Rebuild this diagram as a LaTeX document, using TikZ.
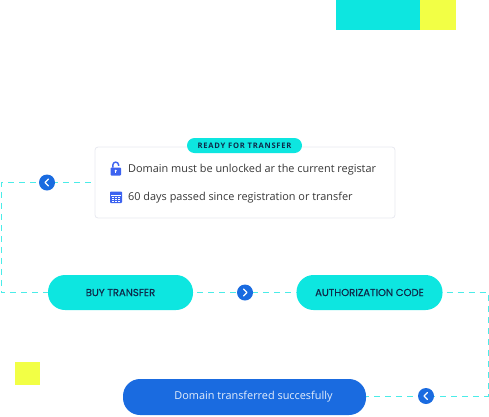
\documentclass[tikz,border=0pt]{standalone}
\usepackage{fontspec}
\setmainfont{Open Sans}
\newfontfamily\btnfont[FakeBold=0.25]{Poppins}
\newfontfamily\badgefont[LetterSpace=10]{Open Sans}
\usetikzlibrary{positioning}
\definecolor{aqua}{HTML}{0DE6E0}
\definecolor{lemon}{HTML}{F2FF45}
\definecolor{royal}{HTML}{1A6BE0}
\definecolor{ink}{HTML}{0D2A4A}
\definecolor{iconblue}{HTML}{3D63F0}
\definecolor{cardline}{HTML}{E8E9F0}
\tikzset{
  flowline/.style={draw=aqua!75,line width=1pt,dash pattern=on 6pt off 5pt},
  pill/.style={rounded corners=17pt,minimum height=35pt,inner sep=0pt,font=\btnfont\fontsize{10.1}{11}\selectfont,text=ink},
  badge/.style={circle,fill=royal,minimum size=16pt,inner sep=0pt},
  chevron/.style={draw=white,line width=1.3pt,line cap=round,line join=round},
  patch/.style={inner sep=0pt,outer sep=0pt},
  cardtext/.style={inner sep=0pt,anchor=west,font=\fontsize{10.9}{12}\selectfont,text=black!78}
}
\begin{document}
\begin{tikzpicture}[x=1pt,y=-1pt]
  \useasboundingbox (0,0) rectangle (489,416);
  % blocks of colour
  \node (topaqua) [patch,fill=aqua,minimum width=84pt,minimum height=30pt] at (378,15) {};
  \node (toplemon) [patch,fill=lemon,minimum width=36pt,minimum height=30pt] at (438,15) {};
  \node (sidelemon) [patch,fill=lemon,minimum width=25pt,minimum height=23pt] at (27.5,373.5) {};
  % steps
  \node (card) [draw=cardline,fill=white,rounded corners=3pt,line width=0.8pt,minimum width=300pt,minimum height=71pt,inner sep=0pt] at (245,182.5) {};
  \node (ready) [fill=aqua,rounded corners=7.5pt,minimum width=115pt,minimum height=15pt,inner sep=0pt,text=ink,font=\badgefont\bfseries\fontsize{7.6}{9}\selectfont] at (244.5,145.5) {READY FOR TRANSFER};
  \node (unlock) [cardtext] at (128,169.5) {Domain must be unlocked ar the current registar};
  \node (days) [cardtext] at (128,197.5) {60 days passed since registration or transfer};
  \node (buy) [pill,fill=aqua,minimum width=145pt] at (120.5,292.5) {BUY TRANSFER};
  \node (auth) [pill,fill=aqua,minimum width=146pt] at (369.5,292.5) {AUTHORIZATION CODE};
  \node (done) [pill,fill=royal,minimum width=243pt,minimum height=36pt,text=white!88!royal,font=\fontsize{10.9}{12}\selectfont] at (244.5,397) {\hspace*{18pt}Domain transferred succesfully};
  % corners of the dashed path
  \coordinate (cardcorner) at (1,182.5);
  \coordinate (buycorner) at (1,292.5);
  \coordinate (authcorner) at (488,292.5);
  \coordinate (donecorner) at (488,396);
  \draw[flowline] ([xshift=-4pt]card.west) -- (cardcorner) -- (buycorner) -- (buy.west);
  \draw[flowline] ([xshift=4pt]buy.east) -- (auth.west);
  \draw[flowline] ([xshift=4pt]auth.east) -- (authcorner) -- (donecorner) -- (done.east |- donecorner);
  % arrows on the path
  \node (back) [badge] at (47,182.5) {};
  \node (next) [badge] at (245,292.5) {};
  \node (last) [badge] at (426,396) {};
  \draw[chevron] ([xshift=1.5pt,yshift=-3.5pt]back.center) -- ++(-3.5,-3.5) -- ++(3.5,-3.5);
  \draw[chevron] ([xshift=-1.5pt,yshift=-3.5pt]next.center) -- ++(3.5,-3.5) -- ++(-3.5,-3.5);
  \draw[chevron] ([xshift=1.5pt,yshift=-3.5pt]last.center) -- ++(-3.5,-3.5) -- ++(3.5,-3.5);
  % lock icon
  \fill[iconblue,rounded corners=0.8pt] (110.5,167.5) rectangle (121,175.5);
  \draw[iconblue,line width=1.4pt] (112.8,167.5) -- (112.8,165) arc[start angle=180,end angle=0,radius=2.9pt] -- (118.6,165.8);
  \fill[white] (115.7,170.8) circle (1.2pt);
  \fill[white] (115.2,170.8) rectangle (116.2,173.4);
  % calendar icon
  \fill[iconblue,rounded corners=0.8pt] (110,191.5) rectangle (122,203);
  \fill[white] (111,194.6) rectangle (121,195.2);
  \foreach \ix in {0,1,2} \foreach \iy in {0,1,2}
    \fill[white] (112+\ix*3.2,196.6+\iy*2.1) rectangle ++(1.5,1.1);
\end{tikzpicture}
\end{document}
